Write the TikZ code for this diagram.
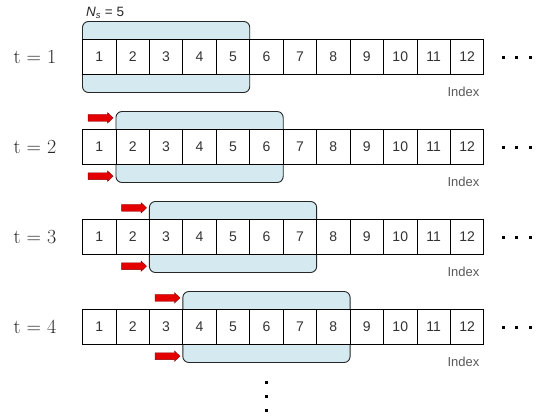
\documentclass[tikz,border=0pt]{standalone}
\usepackage{fontspec}
\newfontfamily\sansf{Liberation Sans}
\usetikzlibrary{calc}
\definecolor{winblue}{RGB}{212,234,240}
\definecolor{arrred}{RGB}{228,0,0}
\definecolor{arrdark}{RGB}{140,0,0}
\begin{document}
\begin{tikzpicture}[x=1pt,y=-1pt,
  cell/.style={draw=black, line width=0.9pt, fill=white, minimum width=33.45pt,
    minimum height=35.7pt, inner sep=0pt, font=\sansf\fontsize{14}{15}\selectfont, text=black!80},
  win/.style={draw=black!85, line width=0.9pt, fill=winblue, rounded corners=6pt,
    minimum width=167.25pt, minimum height=71pt, inner sep=0pt},
  tlab/.style={font=\fontsize{20}{22}\selectfont, inner sep=0pt, text=black!85},
  idx/.style={font=\sansf\fontsize{13}{14}\selectfont, text=black!65, inner sep=0pt},
  dotn/.style={fill=black, minimum size=3pt, inner sep=0pt},
  redarr/.pic={\draw[fill=arrred, draw=arrdark, line width=0.4pt, line join=miter]
    (-25,-3.4) -- (-5.5,-3.4) -- (-5.5,-5.2) -- (0,0) -- (-5.5,5.2) -- (-5.5,3.4) -- (-25,3.4) -- cycle;}
]
\useasboundingbox (0,0) rectangle (538,418);

\foreach \r in {1,...,4} {
  \pgfmathsetmacro\cy{57+90*(\r-1)}
  \pgfmathsetmacro\wx{82.5+33.45*(\r+1.5)}
  \node[win] (w\r) at (\wx,\cy) {};
  \foreach \i in {1,...,12} {
    \pgfmathsetmacro\cx{82.5+33.45*(\i-0.5)}
    \node[cell] (c\r-\i) at (\cx,\cy) {\i};
  }
  \node[tlab] (t\r) at (35,\cy) {t = \r};
  \node[idx] (ix\r) at (463.5,\cy+35) {Index};
  \node[dotn] (da\r) at (503.3,\cy) {};
  \node[dotn] (db\r) at (516.7,\cy) {};
  \node[dotn] (dc\r) at (530,\cy) {};
}

\foreach \r in {2,3,4} {
  \pic at ($(w\r.north west)+(-2.4,6.8)$) {redarr};
  \pic at ($(w\r.south west)+(-2.4,-6.8)$) {redarr};
}

\node[font=\sansf\fontsize{13.5}{14}\selectfont, inner sep=0pt, anchor=west, text=black!85] (ns) at (86,13)
  {\textit{N}\textsubscript{\textit{s}} = 5};

\node[dotn] (v1) at (266.5,382.7) {};
\node[dotn] (v2) at (266.5,396.7) {};
\node[dotn] (v3) at (266.5,410.7) {};
\end{tikzpicture}
\end{document}
